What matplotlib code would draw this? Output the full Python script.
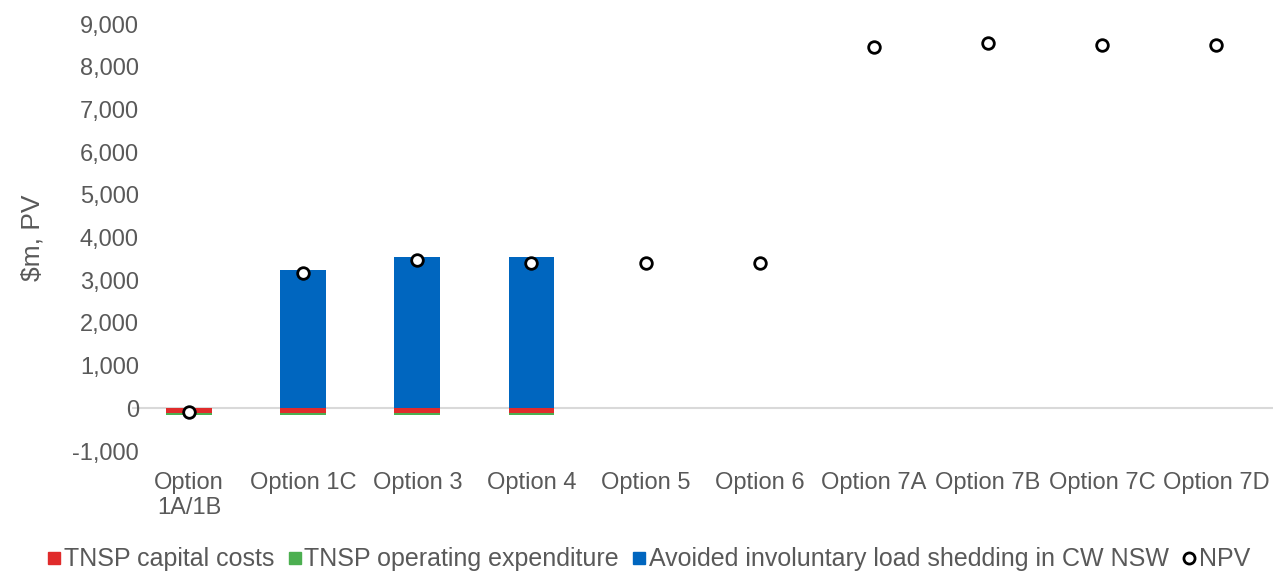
import numpy as np
import matplotlib.pyplot as plt
from matplotlib.lines import Line2D
from matplotlib.ticker import FuncFormatter

plt.rcParams['font.family'] = ['Liberation Sans', 'DejaVu Sans']

options = ['Option\n1A/1B', 'Option 1C', 'Option 3', 'Option 4', 'Option 5',
           'Option 6', 'Option 7A', 'Option 7B', 'Option 7C', 'Option 7D']
capex = [-105, -105, -105, -105, 0, 0, 0, 0, 0, 0]
opex = [-45, -45, -45, -45, 0, 0, 0, 0, 0, 0]
avoided_shedding = [0, 3230, 3535, 3535, 0, 0, 0, 0, 0, 0]
npv = [-95, 3170, 3465, 3410, 3410, 3410, 8470, 8565, 8520, 8520]

red = '#e02b2b'
green = '#4caf50'
blue = '#0066bf'
grey = '#595959'

fig = plt.figure(figsize=(12.81, 5.72), dpi=100)
ax = fig.add_axes([0.103, 0.2115, 0.891, 0.7465])

x = np.arange(len(options))
w = 0.4
ax.bar(x, capex, w, color=red, zorder=2)
ax.bar(x, opex, w, bottom=capex, color=green, zorder=2)
ax.bar(x, avoided_shedding, w, color=blue, zorder=2)
ax.scatter(x, npv, s=70, facecolor='white', edgecolor='black', linewidth=2, zorder=4)

ax.axhline(0, color='#d9d9d9', linewidth=1.5, zorder=1)
ax.set_xlim(-0.5, len(options) - 0.5)
ax.set_ylim(-1000, 9000)
ax.set_yticks(np.arange(-1000, 9001, 1000))
ax.yaxis.set_major_formatter(FuncFormatter(lambda v, p: f'{v:,.0f}'))
ax.set_xticks(x)
ax.set_xticklabels(options)
ax.tick_params(length=0, labelsize=17, colors=grey)
ax.tick_params(axis='x', pad=15)
ax.tick_params(axis='y', pad=-5)
for s in ax.spines.values():
    s.set_visible(False)
ax.set_ylabel('$m, PV', fontsize=19, color=grey, labelpad=20)

handles = [
    Line2D([], [], marker='s', linestyle='none', color=red, markersize=8),
    Line2D([], [], marker='s', linestyle='none', color=green, markersize=8),
    Line2D([], [], marker='s', linestyle='none', color=blue, markersize=8),
    Line2D([], [], marker='o', linestyle='none', markerfacecolor='white',
           markeredgecolor='black', markeredgewidth=2, markersize=8),
]
labels = ['TNSP capital costs', 'TNSP operating expenditure',
          'Avoided involuntary load shedding in CW NSW', 'NPV']
fig.legend(handles, labels, loc='center', bbox_to_anchor=(0.507, 0.022), ncol=4,
           frameon=False, fontsize=18, labelcolor=grey, handlelength=0.45,
           handletextpad=0.15, columnspacing=0.6)

fig.savefig('out.png', dpi=100)
